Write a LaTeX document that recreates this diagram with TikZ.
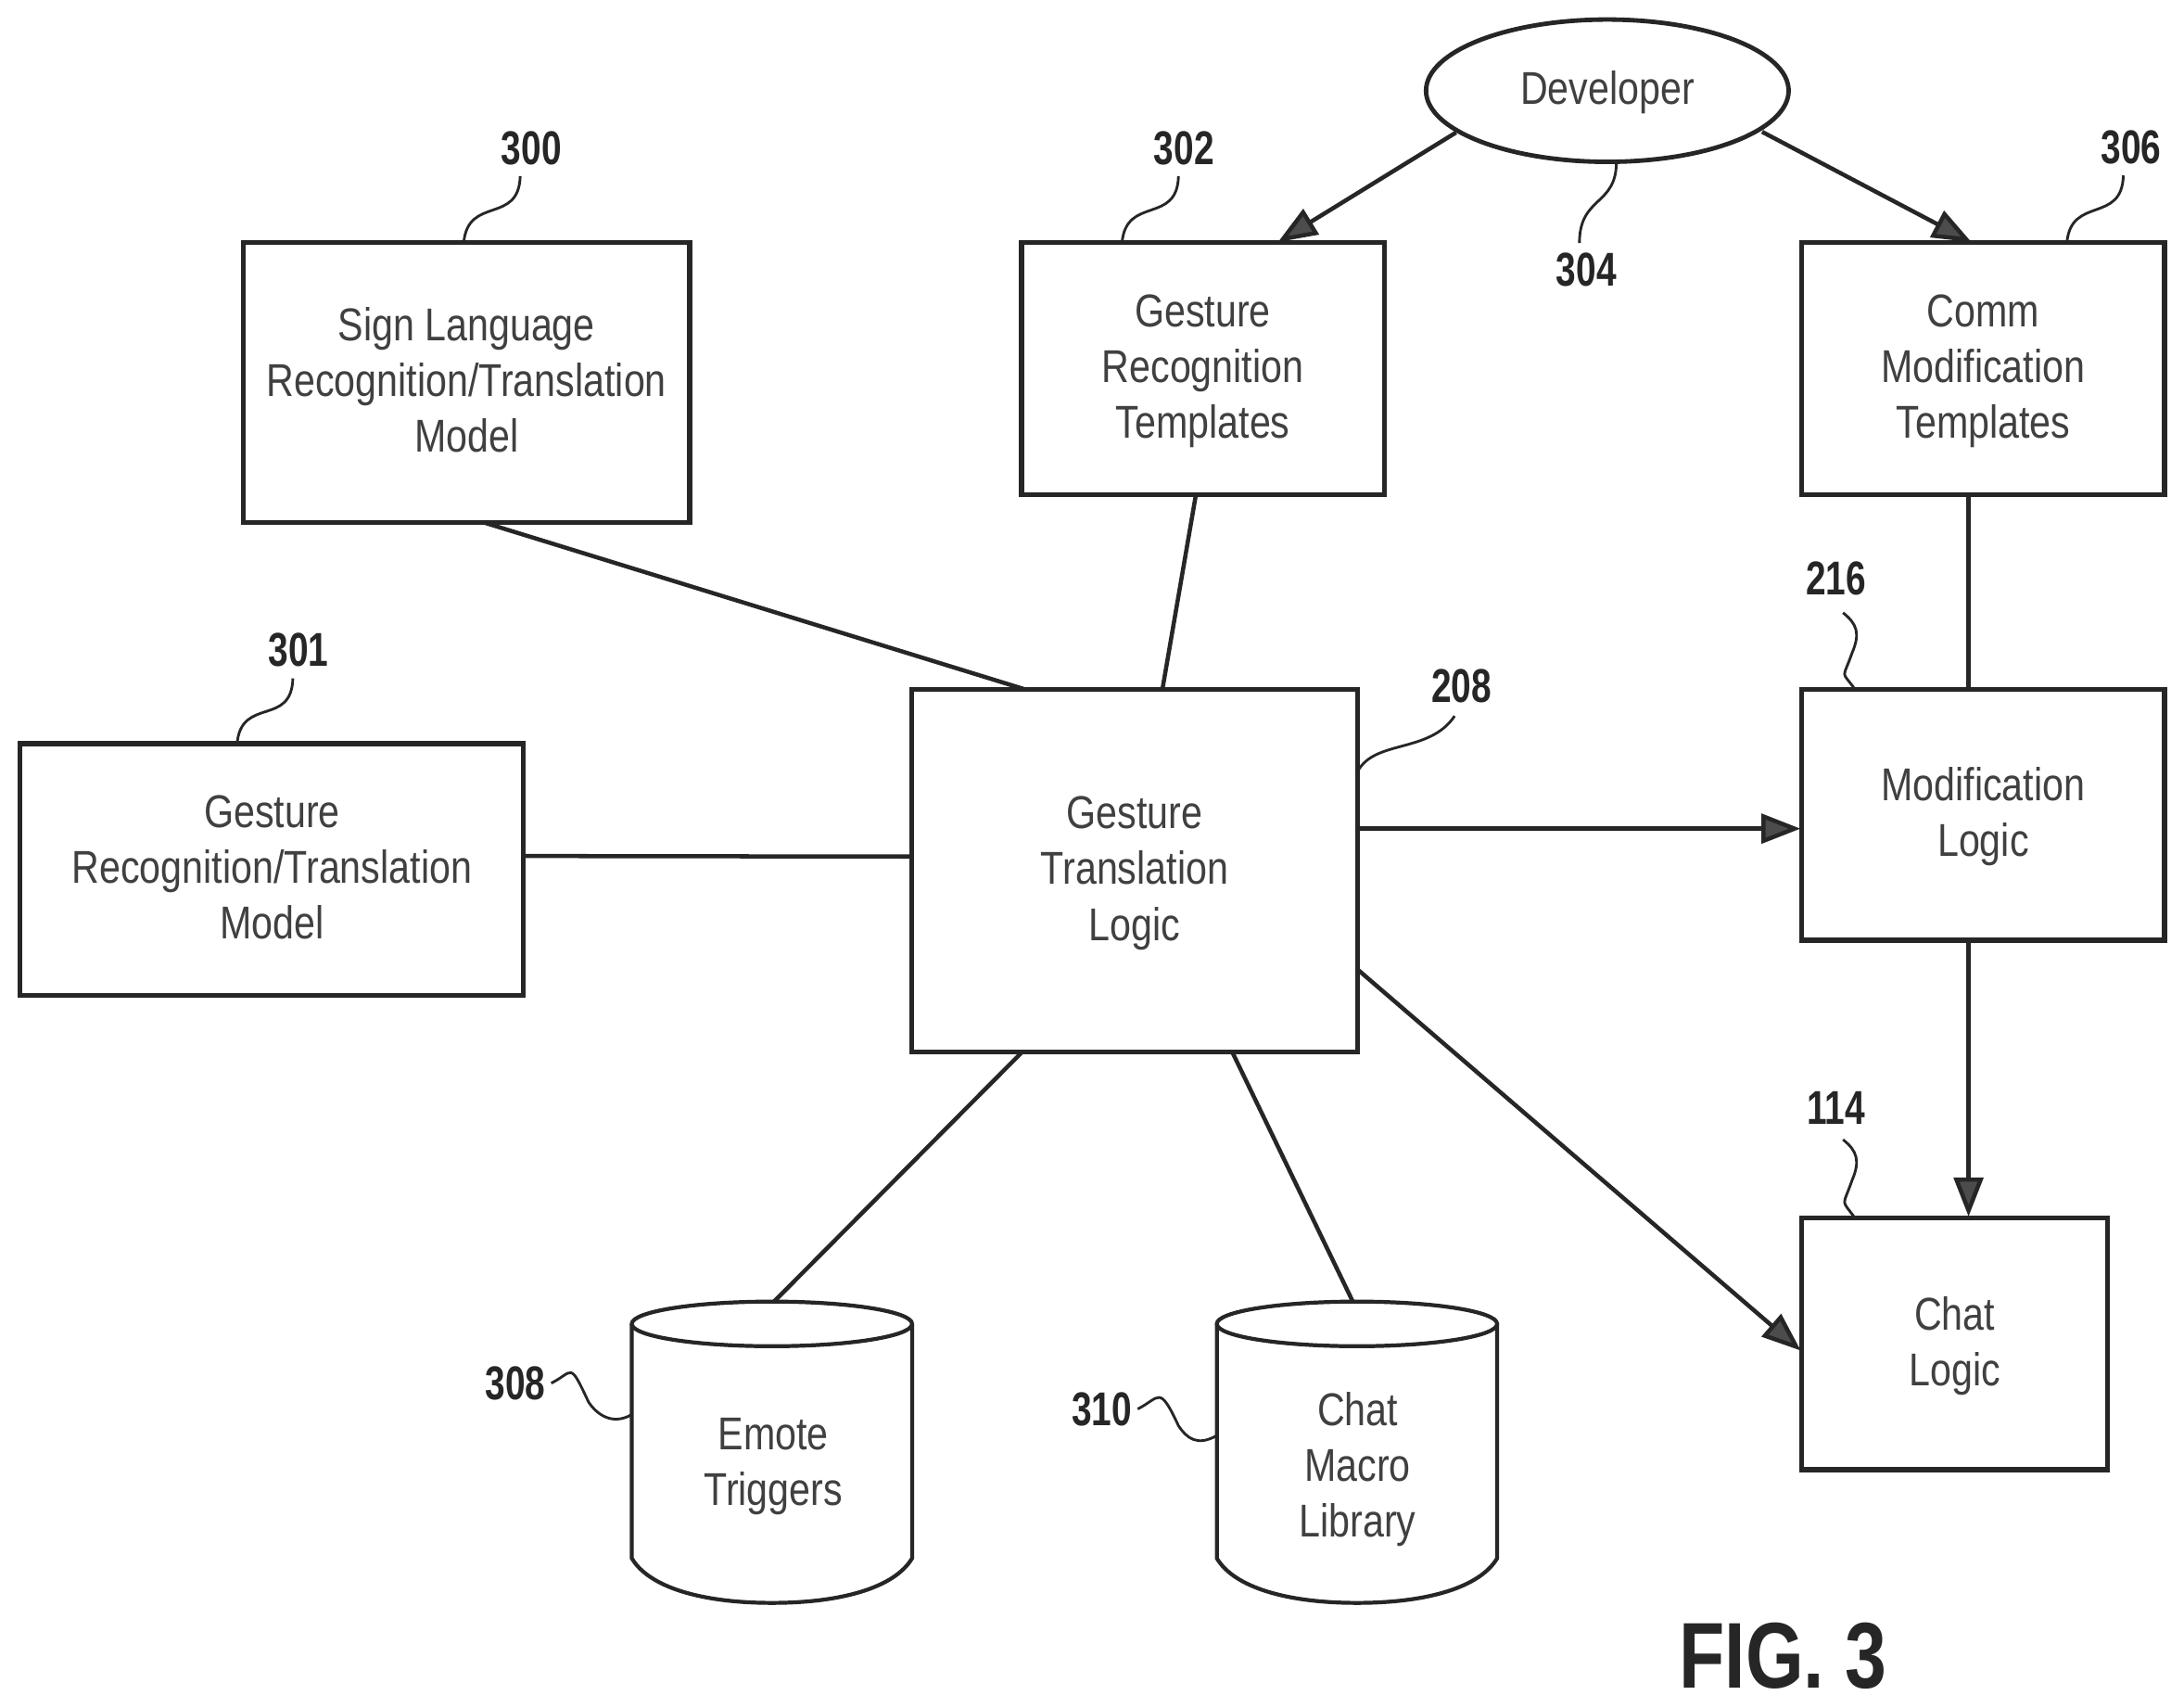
\documentclass[tikz,border=0pt]{standalone}
\usepackage{fontspec}
\setmainfont[FakeStretch=0.83]{Liberation Sans}
\newfontfamily\numfont[FakeStretch=0.76]{Liberation Sans}
\newfontfamily\figfont[FakeStretch=0.80]{Liberation Sans}
\usetikzlibrary{arrows.meta,shapes.geometric}
\definecolor{ink}{gray}{0.15}
\definecolor{tink}{gray}{0.25}
\newcommand{\st}{\rule[-10pt]{0pt}{40pt}}
\tikzset{
  boxnode/.style={draw=ink,line width=3.4pt,rectangle,inner sep=0pt,outer sep=0pt,align=center,text=tink,font=\fontsize{33}{40}\selectfont},
  ellnode/.style={draw=ink,line width=3.2pt,ellipse,inner sep=0pt,outer sep=0pt,align=center,text=tink,font=\fontsize{33}{40}\selectfont},
  cylbody/.style={rectangle,inner sep=0pt,outer sep=0pt,minimum width=201pt,minimum height=216pt},
  cyltext/.style={inner sep=0pt,align=center,text=tink,font=\fontsize{33}{40}\selectfont},
  cylline/.style={draw=ink,line width=2.8pt},
  conn/.style={draw=ink,line width=3pt},
  arr/.style={conn,shorten >=1pt,-{Triangle[length=28pt,width=21pt,fill=black!70]}},
  leader/.style={draw=ink,line width=1.9pt},
  num/.style={inner sep=0pt,text=ink,font=\numfont\bfseries\fontsize{34}{36}\selectfont},
  figlabel/.style={inner sep=0pt,text=ink,font=\figfont\bfseries\fontsize{67}{70}\selectfont},
}
\newcommand{\cylshape}[1]{%
  \draw[cylline,shift={(#1.center)}] (0,-92) ellipse [x radius=100.5,y radius=16];
  \draw[cylline,shift={(#1.center)}] (-100.5,-92) -- (-100.5,76) .. controls (-88,97) and (-50,108) .. (0,108) .. controls (50,108) and (88,97) .. (100.5,76) -- (100.5,-92);
}
\begin{document}
\begin{tikzpicture}[x=1pt,y=-1pt]
\fill[white,use as bounding box] (0,0) rectangle (1566,1223.7);
% boxes
\node[boxnode,minimum width=320pt,minimum height=200.5pt] (n300) at (334.5,274.3) {\st Sign Language\\\st Recognition/Translation\\\st Model};
\node[boxnode,minimum width=260pt,minimum height=180.5pt] (n302) at (862.5,264.3) {\st Gesture\\\st Recognition\\\st Templates};
\node[boxnode,minimum width=260pt,minimum height=180.5pt] (n306) at (1422,264.3) {\st Comm\\\st Modification\\\st Templates};
\node[boxnode,minimum width=361pt,minimum height=180.5pt] (n301) at (195,623.3) {\st Gesture\\\st Recognition/Translation\\\st Model};
\node[boxnode,minimum width=320pt,minimum height=260pt] (n208) at (813.5,624) {\st Gesture\\\st Translation\\\st Logic};
\node[boxnode,minimum width=260pt,minimum height=180pt] (n216) at (1422,584) {\st Modification\\\st Logic};
\node[boxnode,minimum width=219pt,minimum height=180.5pt] (n114) at (1401.5,963.3) {\st Chat\\\st Logic};
\node[ellnode,minimum width=260pt,minimum height=102pt] (n304) at (1152.5,65) {\st Developer};
% cylinders
\node[cylbody] (n308) at (553.5,1041) {};
\node[cylbody] (n310) at (973,1041) {};
\cylshape{n308}
\cylshape{n310}
\node[cyltext] (t308) at (554.5,1049) {\st Emote\\\st Triggers};
\node[cyltext] (t310) at (973.5,1052) {\st Chat\\\st Macro\\\st Library};
% reference numerals
\node[num] (l300) at (381,106) {300};
\node[num] (l302) at (849,106) {302};
\node[num] (l304) at (1137.5,193.5) {304};
\node[num] (l306) at (1528,105.5) {306};
\node[num] (l301) at (214,466) {301};
\node[num] (l208) at (1048,492) {208};
\node[num] (l216) at (1316.5,415) {216};
\node[num] (l114) at (1316.5,794) {114};
\node[num] (l308) at (369.5,991.5) {308};
\node[num] (l310) at (790,1010) {310};
\node[figlabel] (fig) at (1278.5,1187) {FIG. 3};
% connectors
\draw[arr] ([xshift=-108.5pt,yshift=-30pt]n304.center) -- ([xshift=53pt]n302.north);
\draw[arr] ([xshift=111pt,yshift=-29.5pt]n304.center) -- ([xshift=-7.5pt]n306.north);
\draw[conn] ([xshift=12.5pt]n300.south) -- ([xshift=-79pt]n208.north);
\draw[conn] ([xshift=-5pt]n302.south) -- ([xshift=20pt]n208.north);
\draw[conn] ([xshift=-10.5pt]n306.south) -- ([xshift=-10.5pt]n216.north);
\draw[conn] ([yshift=9.7pt]n301.east) -- ([yshift=10pt]n208.west);
\draw[arr] ([yshift=30pt]n208.east) -- ([yshift=-10pt]n216.west);
\draw[arr] ([xshift=-10.5pt]n216.south) -- ([xshift=10pt]n114.north);
\draw[arr] ([yshift=-71pt]n208.east) -- ([yshift=-5.5pt]n114.west);
\draw[conn] ([xshift=-80.5pt]n208.south) -- ([xshift=1.5pt]n308.north);
\draw[conn] ([xshift=70pt]n208.south) -- ([xshift=-3pt]n310.north);
% leaders
\draw[leader] ([xshift=-2pt]n300.north) .. controls +(3,-34) and +(-1,35) .. ([xshift=-8pt,yshift=-8pt]l300.south);
\draw[leader] ([xshift=-58pt]n302.north) .. controls +(3,-34) and +(-1,35) .. ([xshift=-4pt,yshift=-8pt]l302.south);
\draw[leader] ([xshift=60pt]n306.north) .. controls +(3,-34) and +(-1,35) .. ([xshift=-5.5pt,yshift=-8pt]l306.south);
\draw[leader] ([xshift=-25pt]n301.north) .. controls +(3,-34) and +(-1,35) .. ([xshift=-4pt,yshift=-8pt]l301.south);
\draw[leader] ([xshift=6.5pt]n304.south) .. controls +(0,32) and +(0,-34) .. ([xshift=-5pt,yshift=7pt]l304.north);
\draw[leader] ([yshift=71pt]n208.east) .. controls +(12,-23) and +(-18,27) .. ([xshift=-5pt,yshift=-9pt]l208.south);
\draw[leader] ([xshift=-92pt]n216.north) .. controls +(-10,-14) and +(-7,20) .. (1328,468) .. controls +(6,-14) and +(10,8) .. ([xshift=5pt,yshift=-12pt]l216.south);
\draw[leader] ([xshift=-71.5pt]n114.north) .. controls +(-10,-14) and +(-7,20) .. (1328,846) .. controls +(6,-14) and +(10,8) .. ([xshift=5pt,yshift=-11pt]l114.south);
\draw[leader] ([xshift=4pt]l308.east) .. controls +(16,-8) and +(-14,-30) .. (422,1005) .. controls +(6,9) and +(-14,8) .. ([yshift=27pt]n308.west);
\draw[leader] ([xshift=4pt]l310.east) .. controls +(16,-8) and +(-14,-30) .. (845,1022) .. controls +(6,9) and +(-14,8) .. ([yshift=12pt]n310.west);
\end{tikzpicture}
\end{document}
